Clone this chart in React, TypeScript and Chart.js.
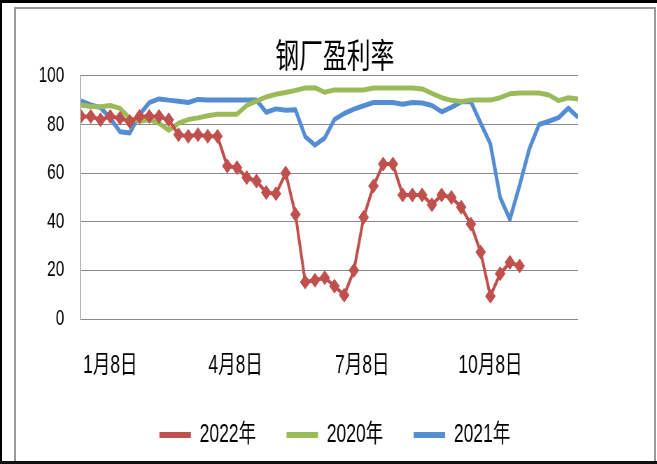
import React, { useEffect, useRef } from 'react';
import { Chart, registerables } from 'chart.js';

Chart.register(...registerables);

// Weekly categories (one point per week)
const weeks = [
  '12月18日', '12月25日', '1月1日', '1月8日', '1月15日', '1月22日', '1月29日', '2月5日',
  '2月12日', '2月19日', '2月26日', '3月5日', '3月12日', '3月19日', '3月26日', '4月2日',
  '4月9日', '4月16日', '4月23日', '4月30日', '5月7日', '5月14日', '5月21日', '5月28日',
  '6月4日', '6月11日', '6月18日', '6月25日', '7月2日', '7月9日', '7月16日', '7月23日',
  '7月30日', '8月6日', '8月13日', '8月20日', '8月27日', '9月3日', '9月10日', '9月17日',
  '9月24日', '10月1日', '10月8日', '10月15日', '10月22日', '10月29日', '11月5日', '11月12日',
  '11月19日', '11月26日', '12月3日', '12月10日',
];

// Axis tick labels
const tickLabels = ['1月8日', '4月8日', '7月8日', '10月8日'];
const yTicks = [0, 20, 40, 60, 80, 100];

const title = '钢厂盈利率';

// Series values (%)
const values2022 = [
  83.3, 83.3, 81.9, 83.3, 82.6, 81.2, 83.3, 83.3, 83.3, 81.9,
  75.8, 75.1, 75.8, 75.1, 75.1, 62.9, 62.2, 58.1, 56.7, 52,
  51.5, 60, 43, 15.2, 15.9, 17, 13.5, 9.8, 20, 41.8,
  54.7, 63.7, 63.7, 51, 51, 51, 47, 51, 50, 46,
  39, 27.5, 9.4, 18.6, 23.3, 21.8,
];
const values2020 = [
  88, 87.4, 87.3, 87.8, 86.6, 82.5, 81.3, 82, 80.5, 77.6,
  80.5, 82, 82.7, 83.6, 84.2, 84.2, 84.2, 87.8, 89.6, 91.3,
  92.4, 93.1, 94, 95, 95.1, 93.2, 94.2, 94.2, 94.2, 94.2,
  95, 95, 95, 95, 95, 94.6, 92.8, 91, 89.9, 89.4,
  90, 90, 90, 91, 92.6, 92.9, 92.9, 92.9, 92.1, 89.8,
  91, 90.5,
];
const values2021 = [
  89.7, 88, 87, 82.5, 77, 76.5, 84, 89, 90.5, 90,
  89.5, 89, 90.3, 90, 90, 90, 90, 90, 90, 85,
  86.4, 85.8, 86, 75, 71.5, 74.4, 82, 84.5, 86.3, 87.7,
  89, 89, 89, 88.3, 89, 88.8, 87.8, 85.2, 87, 89.3,
  89.4, 80.5, 72, 50, 41, 55, 70, 80, 81.3, 82.8,
  86.7, 82.9,
];

const monthStart = [0, 31, 59, 90, 120, 151, 181, 212, 243, 273, 304, 334];
function dayOfYear(label: string): number {
  const m = label.match(/(\d+)月(\d+)日/);
  if (!m) return 0;
  return monthStart[Number(m[1]) - 1] + Number(m[2]);
}
const firstJan = weeks.findIndex((w) => w.startsWith('1月'));
const weekDays = weeks.map((w, i) => dayOfYear(w) - (i < firstJan ? 365 : 0));
const tickDays = tickLabels.map(dayOfYear);
const toPoints = (vals: number[]) => vals.map((v, i) => ({ x: weekDays[i], y: v }));

const GRID = '#8a8a8a';
const latin = "'Liberation Sans', 'Noto Sans CJK SC', sans-serif";

export default function App() {
  const ref = useRef<HTMLCanvasElement>(null);

  useEffect(() => {
    if (!ref.current) return;
    const chart = new Chart(ref.current, {
      type: 'line',
      data: {
        datasets: [
          {
            label: '2022年',
            data: toPoints(values2022),
            borderColor: '#C0504D',
            backgroundColor: '#C0504D',
            borderWidth: 4,
            pointStyle: 'rectRot',
            pointRadius: 7,
            pointBorderWidth: 1,
            pointBackgroundColor: '#C0504D',
            pointBorderColor: '#C0504D',
            tension: 0,
            borderJoinStyle: 'round',
          },
          {
            label: '2020年',
            data: toPoints(values2020),
            borderColor: '#9BBB59',
            backgroundColor: '#9BBB59',
            borderWidth: 5,
            pointRadius: 0,
            tension: 0,
            borderJoinStyle: 'round',
          },
          {
            label: '2021年',
            data: toPoints(values2021),
            borderColor: '#548DD4',
            backgroundColor: '#548DD4',
            borderWidth: 5,
            pointRadius: 0,
            tension: 0,
            borderJoinStyle: 'round',
          },
        ],
      },
      options: {
        responsive: false,
        animation: false,
        layout: { padding: { left: 0, right: 0, top: 0, bottom: 1.5 } },
        plugins: {
          title: {
            display: true,
            text: title,
            color: '#000',
            font: { family: "'Noto Sans CJK SC', sans-serif", size: 34, weight: 'normal' },
            padding: { top: 26, bottom: 0 },
          },
          legend: {
            position: 'bottom',
            labels: {
              color: '#000',
              font: { family: latin, size: 25 },
              boxWidth: 45,
              boxHeight: 6,
              padding: 43.5,
              generateLabels: (c: any) =>
                (Chart.defaults as any).plugins.legend.labels
                  .generateLabels(c)
                  .map((l: any) => ({ ...l, lineWidth: 0 })),
            },
          },
          tooltip: { enabled: false },
        },
        scales: {
          x: {
            type: 'linear',
            min: weekDays[0],
            max: weekDays[weekDays.length - 1],
            grid: { display: false, drawTicks: false, tickLength: 0 },
            border: { display: false },
            afterBuildTicks: (s: any) => {
              s.ticks = tickDays.map((v) => ({ value: v }));
            },
            afterFit: (s: any) => {
              s.height = 60;
            },
            ticks: {
              autoSkip: false,
              maxRotation: 0,
              padding: 32,
              color: '#000',
              font: { family: latin, size: 25 },
              callback: (v: any) => {
                const i = tickDays.indexOf(Number(v));
                return i >= 0 ? tickLabels[i] : '';
              },
            },
          },
          y: {
            min: yTicks[0],
            max: yTicks[yTicks.length - 1],
            afterBuildTicks: (s: any) => {
              s.ticks = yTicks.map((v) => ({ value: v }));
            },
            ticks: { padding: 24, color: '#000', font: { family: latin, size: 22 } },
            grid: { color: GRID, lineWidth: 1, drawTicks: false },
            border: { display: true, color: GRID, width: 1 },
            afterFit: (s: any) => {
              s.width = 92.9;
            },
          },
          yRight: {
            axis: 'y',
            position: 'right',
            grid: { display: false },
            border: { display: false },
            ticks: { display: false },
            afterFit: (s: any) => {
              s.width = 108;
            },
          },
        },
      } as any,
    });
    return () => chart.destroy();
  }, []);

  return (
    <div
      style={{
        position: 'absolute',
        left: 0,
        top: 0,
        width: 657,
        height: 464,
        background: '#fff',
        overflow: 'hidden',
      }}
    >
      <div style={{ position: 'absolute', left: 0, top: 0, width: 657, height: 3, background: '#000' }} />
      <div style={{ position: 'absolute', left: 0, top: 0, width: 2, height: 464, background: '#000' }} />
      <div style={{ position: 'absolute', left: 0, top: 461, width: 657, height: 3, background: '#111' }} />
      <div
        style={{
          position: 'absolute',
          left: 14,
          top: 7,
          width: 642,
          height: 454,
          boxSizing: 'border-box',
          borderTop: '2px solid #9a9a9a',
          borderLeft: '2px solid #9a9a9a',
          borderRight: '2px solid #9a9a9a',
        }}
      />
      <div
        style={{
          position: 'absolute',
          left: 16,
          top: 9,
          width: 911,
          height: 450,
          transform: 'scaleX(0.7)',
          transformOrigin: '0 0',
        }}
      >
        <canvas ref={ref} width={911} height={450} style={{ display: 'block', width: 911, height: 450 }} />
      </div>
    </div>
  );
}
